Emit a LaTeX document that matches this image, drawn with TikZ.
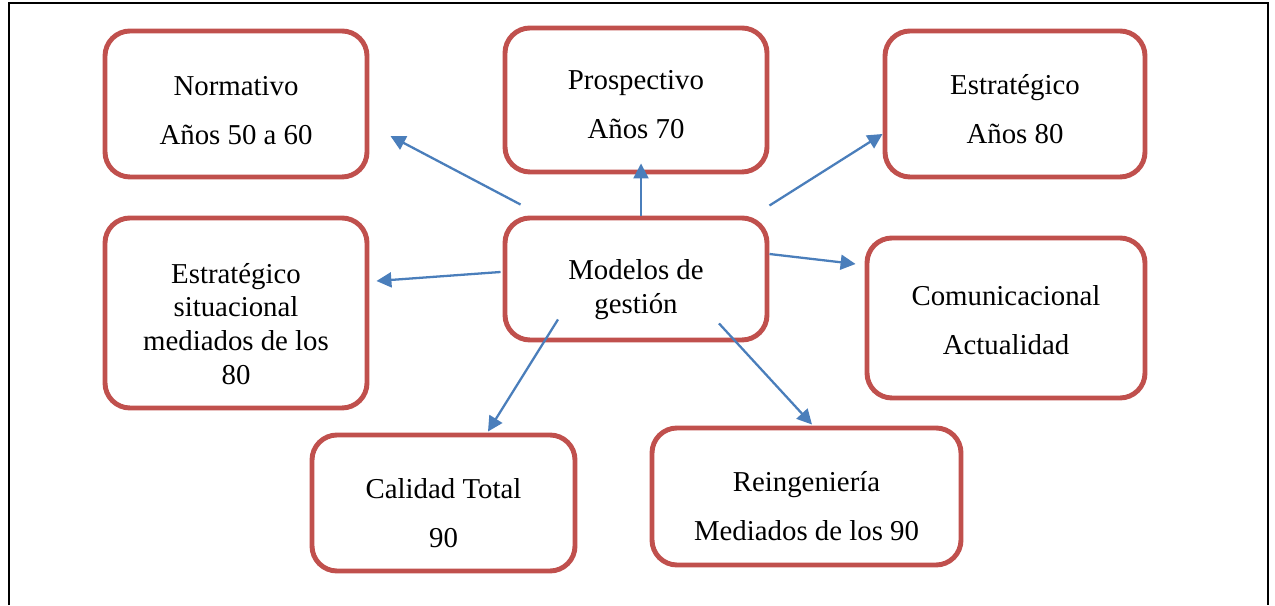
\documentclass[tikz,border=0pt]{standalone}
\usepackage{fontspec}
\setmainfont{Liberation Serif}
\usepackage{xcolor}
\usetikzlibrary{shapes,arrows,positioning,calc,arrows.meta}
\definecolor{cajared}{HTML}{C0504D}
\definecolor{flechablue}{HTML}{4A7EBB}

\begin{document}
\begin{tikzpicture}[
    caja/.style={draw=cajared, line width=2.8pt, rounded corners=0.5cm, inner sep=0pt},
    txt/.style={align=center, inner sep=0pt, font=\fontsize{16.4}{19.3}\selectfont},
    flecha/.style={draw=flechablue, line width=1.3pt, -{Triangle[length=8.5pt,width=8.5pt]}}]
    \useasboundingbox (0,0) rectangle (25.5,12.1);
    \draw[line width=1.1pt] (0.18,0) -- (0.18,12.04) -- (25.36,12.04) -- (25.36,0);

    \node[caja, minimum width=5.24cm, minimum height=2.92cm,
        label={[txt, yshift=-0.14cm]center:{Normativo\\[8.5pt]Años 50 a 60}}] (norm) at (4.72,10.02) {};
    \node[caja, minimum width=5.24cm, minimum height=2.88cm,
        label={[txt, yshift=-0.1cm]center:{Prospectivo\\[8.5pt]Años 70}}] (prosp) at (12.72,10.10) {};
    \node[caja, minimum width=5.2cm, minimum height=2.92cm,
        label={[txt, yshift=-0.1cm]center:{Estratégico\\[8.5pt]Años 80}}] (estr) at (20.30,10.02) {};
    \node[caja, minimum width=5.24cm, minimum height=3.8cm,
        label={[txt, yshift=-0.22cm]center:{Estratégico\\situacional\\mediados de los\\80}}] (situ) at (4.72,5.84) {};
    \node[caja, minimum width=5.24cm, minimum height=2.44cm,
        label={[txt, yshift=-0.22cm]center:{Modelos de\\gestión}}] (mod) at (12.72,6.52) {};
    \node[caja, minimum width=5.56cm, minimum height=3.2cm,
        label={[txt, yshift=-0.04cm]center:{Comunicacional\\[8.5pt]Actualidad}}] (com) at (20.12,5.74) {};
    \node[caja, minimum width=5.26cm, minimum height=2.72cm,
        label={[txt, yshift=-0.2cm]center:{Calidad Total\\[8.5pt]90}}] (cal) at (8.87,2.04) {};
    \node[caja, minimum width=6.18cm, minimum height=2.74cm,
        label={[txt, yshift=-0.19cm]center:{Reingeniería\\[8.5pt]Mediados de los 90}}] (rein) at (16.13,2.17) {};

    \draw[flecha] ($(mod.north west)+(0.36,0.22)$) -- ($(norm.east)+(0.42,-0.64)$);
    \draw[flecha] ($(mod.north)+(0.1,0)$) -- ($(prosp.south)+(0.1,0.22)$);
    \draw[flecha] ($(mod.north east)+(0,0.2)$) -- ($(estr.west)+(0,-0.6)$);
    \draw[flecha] ($(mod.west)+(-0.04,0.14)$) -- ($(situ.east)+(0.14,0.64)$);
    \draw[flecha] ($(mod.east)+(0,0.5)$) -- ($(com.west)+(-0.18,1.08)$);
    \draw[flecha] ($(mod.south)+(-1.56,0.46)$) -- ($(cal.north)+(0.89,0.02)$);
    \draw[flecha] ($(mod.south)+(1.66,0.38)$) -- ($(rein.north)+(0.11,0.02)$);
\end{tikzpicture}
\end{document}
